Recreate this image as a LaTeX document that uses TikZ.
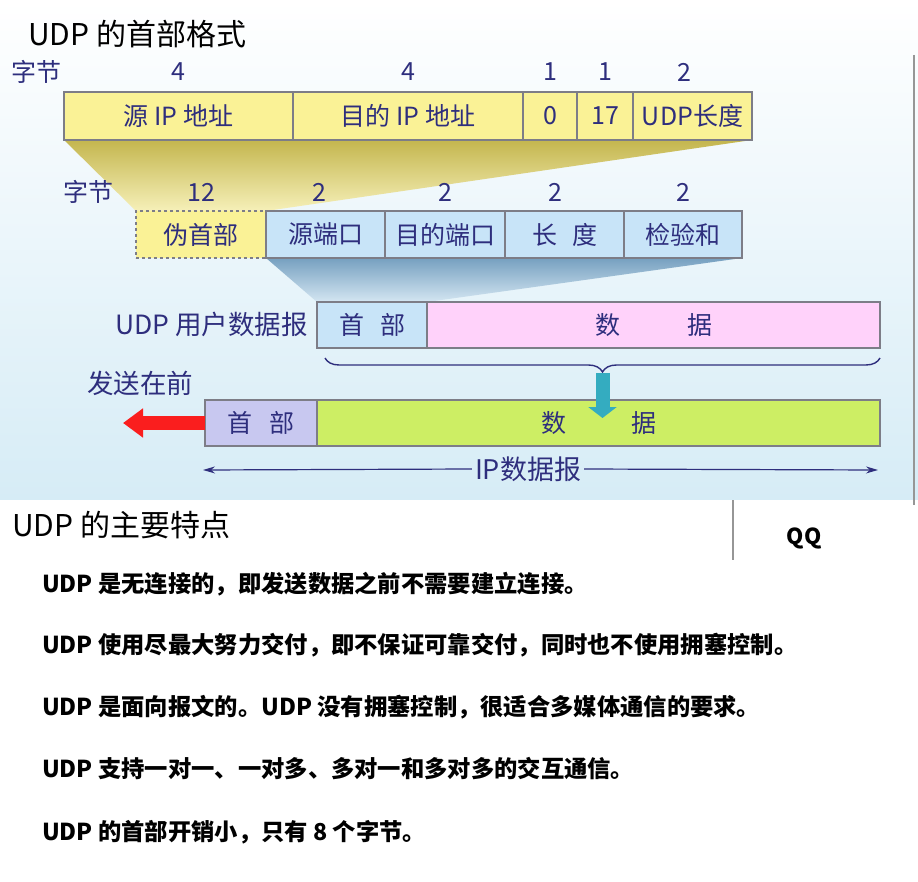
\documentclass[tikz,border=0pt]{standalone}
\usepackage{fontspec}
\setmainfont{Noto Sans CJK SC}
\usetikzlibrary{positioning,backgrounds,arrows.meta,decorations.pathreplacing}
\definecolor{ink}{RGB}{46,46,125}
\definecolor{edge}{RGB}{125,125,135}
\definecolor{pale}{RGB}{214,236,246}
\definecolor{ipyellow}{RGB}{250,242,150}
\definecolor{udpblue}{RGB}{200,228,248}
\definecolor{datapink}{RGB}{255,210,250}
\definecolor{hdlilac}{RGB}{200,200,240}
\definecolor{datalime}{RGB}{205,238,100}
\definecolor{fanyellow}{RGB}{196,182,78}
\definecolor{fanyellowlight}{RGB}{246,240,185}
\definecolor{fanblue}{RGB}{118,160,192}
\definecolor{fanbluelight}{RGB}{212,230,242}
\definecolor{sendred}{RGB}{250,30,30}
\definecolor{downteal}{RGB}{52,172,192}
\definecolor{rule}{RGB}{150,150,150}

\begin{document}
\begin{tikzpicture}[x=1pt,y=-1pt]
	\tikzstyle{Cell} = [draw=edge,line width=1.2pt,inner sep=0pt,outer sep=0pt,anchor=north west,text=ink,font=\fontsize{25}{25}\selectfont]
	\tikzstyle{Tag} = [text=ink,inner sep=0pt,font=\fontsize{25}{25}\selectfont]
	\tikzstyle{Head} = [anchor=west,inner sep=0pt,font=\fontsize{30}{30}\selectfont]
	\tikzstyle{Point} = [anchor=west,inner sep=0pt,font=\bfseries\fontsize{23.3}{23.3}\selectfont]
	\useasboundingbox (0,0) rectangle (918,882);
	\node[Head] (title1) at (28,34) {UDP 的首部格式};
	% pseudo header
	\node[Tag] (bytes1) at (36,72) {字节};
	\node[Cell,fill=ipyellow,minimum width=229pt,minimum height=48pt] (srcip) at (64,92) {源 IP 地址};
	\node[Cell,fill=ipyellow,minimum width=230pt,minimum height=48pt] (dstip) at (293,92) {目的 IP 地址};
	\node[Cell,fill=ipyellow,minimum width=54pt,minimum height=48pt] (zero) at (523,92) {0};
	\node[Cell,fill=ipyellow,minimum width=56pt,minimum height=48pt] (proto) at (577,92) {17};
	\node[Cell,fill=ipyellow,minimum width=119pt,minimum height=48pt] (udplen) at (633,92) {UDP长度};
	\node[Tag] at ([yshift=20pt]srcip.north) {4};
	\node[Tag] at ([yshift=20pt]dstip.north) {4};
	\node[Tag] at ([yshift=20pt]zero.north) {1};
	\node[Tag] at ([yshift=20pt]proto.north) {1};
	\node[Tag] at ([xshift=-8pt,yshift=20pt]udplen.north) {2};
	% udp header
	\node[Tag] (bytes2) at (88,192) {字节};
	\node[Cell,fill=ipyellow,dashed,minimum width=130pt,minimum height=47pt] (pseudo) at (136,211) {伪首部};
	\node[Cell,fill=udpblue,minimum width=119pt,minimum height=47pt] (srcport) at (266,211) {源端口};
	\node[Cell,fill=udpblue,minimum width=120pt,minimum height=47pt] (dstport) at (385,211) {目的端口};
	\node[Cell,fill=udpblue,minimum width=119pt,minimum height=47pt] (len) at (505,211) {长\hspace{15pt}度};
	\node[Cell,fill=udpblue,minimum width=118pt,minimum height=47pt] (cksum) at (624,211) {检验和};
	\node[Tag] at ([yshift=19pt]pseudo.north) {12};
	\node[Tag] at ([xshift=-6pt,yshift=19pt]srcport.north) {2};
	\node[Tag] at ([yshift=19pt]dstport.north) {2};
	\node[Tag] at ([xshift=-9pt,yshift=19pt]len.north) {2};
	\node[Tag] at ([yshift=19pt]cksum.north) {2};
	% udp datagram
	\node[Tag,anchor=east,font=\fontsize{26.5}{26.5}\selectfont] (udpname) at (308,324) {UDP 用户数据报};
	\node[Cell,fill=udpblue,minimum width=110pt,minimum height=46pt] (udphd) at (317,302) {首\hspace{16pt}部};
	\node[Cell,fill=datapink,minimum width=453pt,minimum height=46pt] (udpdata) at (427,302) {数\hspace{67pt}据};
	\draw[decorate,decoration={brace,mirror,amplitude=14pt},ink,line width=1.4pt]
		([xshift=8pt,yshift=-10pt]udphd.south west) -- ([yshift=-10pt]udpdata.south east)
		coordinate[midway] (bracemid);
	% ip datagram
	\node[Tag,font=\fontsize{26.5}{26.5}\selectfont] (first) at (140,383) {发送在前};
	\node[Cell,fill=hdlilac,minimum width=112pt,minimum height=46pt] (iphd) at (205,400) {首\hspace{17pt}部};
	\node[Cell,fill=datalime,minimum width=563pt,minimum height=46pt] (ipdata) at (317,400) {数\hspace{65pt}据};
	\coordinate (bracetip) at ([yshift=-15pt]bracemid);
	\coordinate (downend) at (bracetip |- 0,418);
	\draw[-{Triangle[width=28pt,length=11pt]},downteal,line width=14pt] (bracetip) -- (downend);
	\coordinate (sendend) at ([xshift=-82pt]iphd.west);
	\draw[-{Triangle[width=28pt,length=20pt]},sendred,line width=14pt] (iphd.west) -- (sendend);
	\node[Tag,inner sep=3pt,font=\fontsize{27}{27}\selectfont] (iplabel) at (528,469) {IP数据报};
	\coordinate (ipleft) at ([xshift=-2pt,yshift=-24pt]iphd.south west);
	\coordinate (ipright) at ([xshift=-2pt,yshift=-24pt]ipdata.south east);
	\draw[-{Stealth[length=12pt,width=7pt]},ink,line width=1.2pt] (iplabel.west) -- (ipleft);
	\draw[-{Stealth[length=12pt,width=7pt]},ink,line width=1.2pt] (iplabel.east) -- (ipright);
	% udp features
	\node[Head] (title2) at (12,525) {UDP 的主要特点};
	\node[font=\bfseries\fontsize{22}{22}\selectfont,inner sep=0pt] (qq) at (804,538) {QQ};
	\node[Point] (p1) at (42,584) {UDP 是无连接的，即发送数据之前不需要建立连接。};
	\node[Point] (p2) at (42,645) {UDP 使用尽最大努力交付，即不保证可靠交付，同时也不使用拥塞控制。};
	\node[Point] (p3) at (42,707) {UDP 是面向报文的。UDP 没有拥塞控制，很适合多媒体通信的要求。};
	\node[Point] (p4) at (42,769) {UDP 支持一对一、一对多、多对一和多对多的交互通信。};
	\node[Point] (p5) at (42,832) {UDP 的首部开销小，只有 8 个字节。};
	\begin{scope}[on background layer]
		\shade[top color=white,bottom color=pale] (0,0) rectangle (918,500);
		\fill[white] (0,500) rectangle (918,882);
		\shade[top color=fanyellow,bottom color=fanyellowlight]
			(srcip.south west) -- (udplen.south east) -- (pseudo.north east) -- (pseudo.north west) -- cycle;
		\shade[top color=fanblue,bottom color=fanbluelight]
			(srcport.south west) -- (cksum.south east) -- (udphd.north east) -- (udphd.north west) -- cycle;
		\draw[rule,line width=2pt] (914,55) -- (914,505);
		\draw[rule,line width=1.5pt] (733,500) -- (733,560);
	\end{scope}
\end{tikzpicture}
\end{document}
